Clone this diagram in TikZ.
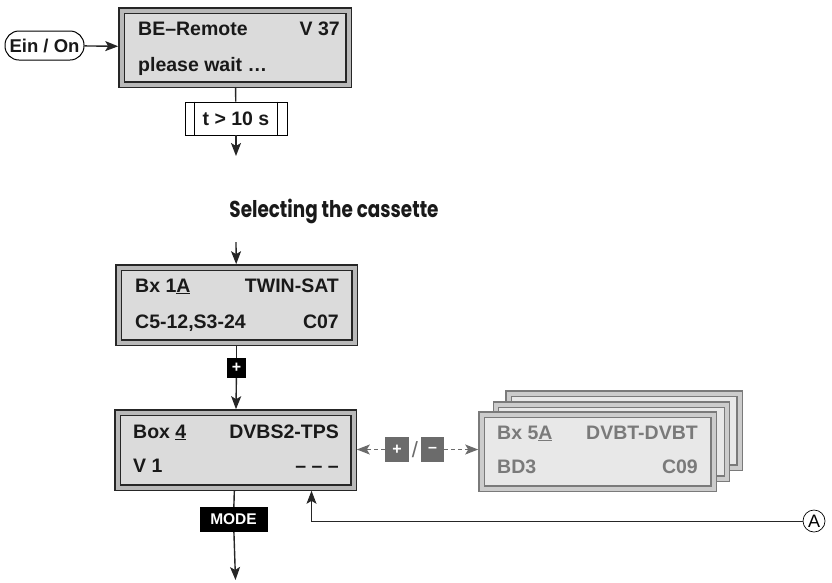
\documentclass[tikz,border=0pt]{standalone}
\usepackage{fontspec}
\setmainfont{Liberation Sans}
\newfontfamily\titlefont{Poppins}
\usetikzlibrary{arrows.meta,calc}
\definecolor{lcdline}{gray}{0.15}
\definecolor{lcdtext}{gray}{0.1}
\definecolor{lcdband}{gray}{0.72}
\definecolor{lcdfill}{gray}{0.86}
\definecolor{stkline}{gray}{0.48}
\definecolor{stkband}{gray}{0.8}
\definecolor{stkfill}{gray}{0.91}
\definecolor{btngray}{gray}{0.42}

\begin{document}
\begin{tikzpicture}[x=1pt,y=-1pt,
  arr/.style={-{Stealth[length=13pt,width=10pt,inset=3pt]}},
  lcd/.style={draw=lcdline,line width=1.3pt,double=lcdband,double distance=4pt,
    fill=lcdfill,inner sep=0pt,outer sep=3.3pt},
  stk/.style={lcd,draw=stkline,double=stkband,fill=stkfill},
  txt/.style={font=\fontsize{19.5}{21}\selectfont\bfseries,inner sep=0pt,text=lcdtext},
  stxt/.style={txt,text=stkline},
  key/.style={fill=black,text=white,inner sep=0pt,font=\fontsize{16}{16}\selectfont\bfseries},
  flow/.style={line width=1.4pt,draw=lcdline}]
  \useasboundingbox (0,0) rectangle (832,582);

  % start
  \node[draw,line width=1pt,rounded corners=14pt,minimum width=79pt,minimum height=29pt,
    inner sep=0pt,text=lcdtext,font=\fontsize{18.5}{20}\selectfont\bfseries] (on) at (44.5,45.5) {Ein / On};
  \node[lcd,minimum width=227pt,minimum height=74pt] (lcd0) at (235,47.5) {};
  \node[txt,anchor=base west] (l0a) at (138,35) {BE–Remote};
  \node[txt,anchor=base east] (l0b) at (340,35) {V 37};
  \node[txt,anchor=base west] (l0c) at (138,71) {please wait …};
  \node[draw,line width=0.8pt,minimum width=102pt,minimum height=33pt,inner sep=0pt,
    text=lcdtext,font=\fontsize{19.5}{21}\selectfont\bfseries] (wait) at (236,118.5) {t > 10 s};
  \draw[line width=0.8pt] ([xshift=10pt]wait.north west) -- ([xshift=10pt]wait.south west)
    ([xshift=-10pt]wait.north east) -- ([xshift=-10pt]wait.south east);
  \coordinate (e0) at (236,156);

  \node[font=\titlefont\fontsize{23}{25}\selectfont,text=lcdtext,inner sep=0pt] (title) at (334,211)
    {\scalebox{0.8}[1]{\textbf{Selecting the cassette}}};

  % cassette selection
  \coordinate (s1) at (236,242);
  \node[lcd,minimum width=236pt,minimum height=75pt] (lcd1) at (236.5,305) {};
  \node[txt,anchor=base west] (l1a) at (135,292) {Bx 1\underline{A}};
  \node[txt,anchor=base east] (l1b) at (339,292) {TWIN-SAT};
  \node[txt,anchor=base west] (l1c) at (135,328) {C5-12,S3-24};
  \node[txt,anchor=base east] (l1d) at (339,328) {C07};
  \node[key,minimum width=19pt,minimum height=20pt] (plus) at (236.5,368) {+};

  \node[lcd,minimum width=236pt,minimum height=75pt] (lcd2) at (235.5,450) {};
  \node[txt,anchor=base west] (l2a) at (133,438) {Box \underline{4}};
  \node[txt,anchor=base east] (l2b) at (339,438) {DVBS2-TPS};
  \node[txt,anchor=base west] (l2c) at (133,472) {V 1};
  \node[txt,anchor=base east] (l2d) at (339,472) {– – –};
  \node[key,minimum width=68pt,minimum height=25pt,font=\fontsize{15.5}{16}\selectfont\bfseries] (mode) at (233.5,519.5) {MODE};
  \coordinate (e2) at (235.5,580);

  % other cassettes
  \node[stk,minimum width=231pt,minimum height=74pt] (stk3) at (624,430.5) {};
  \node[stk,minimum width=231pt,minimum height=74pt] (stk2) at (611.5,441.5) {};
  \node[stk,minimum width=232pt,minimum height=74pt] (stk1) at (597.5,451.5) {};
  \node[stxt,anchor=base west] (s1a) at (497,439) {Bx 5\underline{A}};
  \node[stxt,anchor=base east] (s1b) at (698,439) {DVBT-DVBT};
  \node[stxt,anchor=base west] (s1c) at (497,473) {BD3};
  \node[stxt,anchor=base east] (s1d) at (698,473) {C09};
  \node[key,fill=btngray,minimum width=24pt,minimum height=25pt] (bplus) at (397,449.5) {+};
  \node[txt,text=btngray,font=\fontsize{22}{22}\selectfont] (slash) at (415,449.5) {/};
  \node[key,fill=btngray,minimum width=23pt,minimum height=25pt] (bminus) at (432.5,449.5) {–};

  \node[draw,circle,line width=0.7pt,minimum size=22pt,inner sep=0pt,
    font=\fontsize{18}{18}\selectfont] (A) at (814,521) {A};

  % connectors
  \draw[flow,arr] (on) -- (lcd0);
  \draw[flow] (lcd0) -- (wait);
  \draw[flow,arr] (wait) -- (e0);
  \draw[flow,arr] (s1) -- (lcd1);
  \draw[flow] (lcd1) -- (plus);
  \draw[flow,arr] (plus) -- (lcd2);
  \draw[flow] (lcd2) -- (mode);
  \draw[flow,arr] (mode) -- (e2);
  \draw[btngray,line width=1.2pt,dash pattern=on 4pt off 3pt,arr] (bplus) -- (lcd2.east |- bplus);
  \draw[btngray,line width=1.2pt,dash pattern=on 4pt off 3pt,arr] (bminus) -- (stk1.west |- bminus);
  \draw[line width=0.8pt,draw=lcdline,arr] (A) -| ([xshift=76pt]lcd2.south);
\end{tikzpicture}
\end{document}
